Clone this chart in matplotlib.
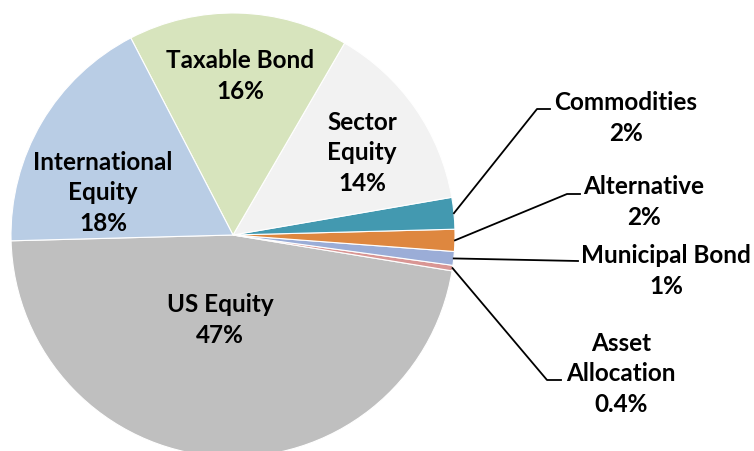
import numpy as np
import matplotlib.pyplot as plt

# доли портфеля, против часовой стрелки начиная с US Equity
categories = ['US Equity', 'Asset\nAllocation', 'Municipal Bond', 'Alternative',
              'Commodities', 'Sector\nEquity', 'Taxable Bond', 'International\nEquity']
values = [47.0, 0.4, 1.0, 1.6, 2.3, 13.9, 16.0, 17.8]
pct_labels = ['47%', '0.4%', '1%', '2%', '2%', '14%', '16%', '18%']
colors = ['#BFBFBF', '#D99694', '#9BADD7', '#DE873F',
          '#4399B0', '#F2F2F2', '#D7E4BD', '#B9CDE5']

W, H = 754, 452
center = (233, H - 236)
radius = 222

# позиции подписей (пиксели, y сверху)
inside_pos = {0: (220, 320), 5: (362, 153), 6: (240, 76), 7: (103, 193)}
outside_pos = {4: (626, 118), 3: (644, 202), 2: (666, 271), 1: (621, 374)}
# точки излома выносок
elbows = {4: [(537, 110), (550, 110)], 3: [(567, 195), (580, 195)],
          2: [(578, 262)], 1: [(547, 381), (561, 381)]}

plt.rcParams['font.family'] = ['Lato', 'DejaVu Sans']

fig = plt.figure(figsize=(W / 100, H / 100), dpi=100)
ax = fig.add_axes([0, 0, 1, 1])

wedges, _ = ax.pie(values, colors=colors, startangle=181.5, counterclock=True,
                   center=center, radius=radius,
                   wedgeprops=dict(edgecolor='white', linewidth=0.8))
ax.set_xlim(0, W)
ax.set_ylim(0, H)
ax.set_aspect('equal')
ax.axis('off')

for i, w in enumerate(wedges):
    text = categories[i] + '\n' + pct_labels[i]
    if i in inside_pos:
        x, y = inside_pos[i]
    else:
        x, y = outside_pos[i]
        ang = np.deg2rad((w.theta1 + w.theta2) / 2)
        xs = [center[0] + radius * np.cos(ang)]
        ys = [center[1] + radius * np.sin(ang)]
        for ex, ey in elbows[i]:
            xs.append(ex)
            ys.append(H - ey)
        ax.plot(xs, ys, color='black', linewidth=1.3)
    ax.text(x, H - y, text, ha='center', va='center', fontsize=17.5,
            fontweight='bold', linespacing=1.4)

fig.savefig('out.png', dpi=100)
